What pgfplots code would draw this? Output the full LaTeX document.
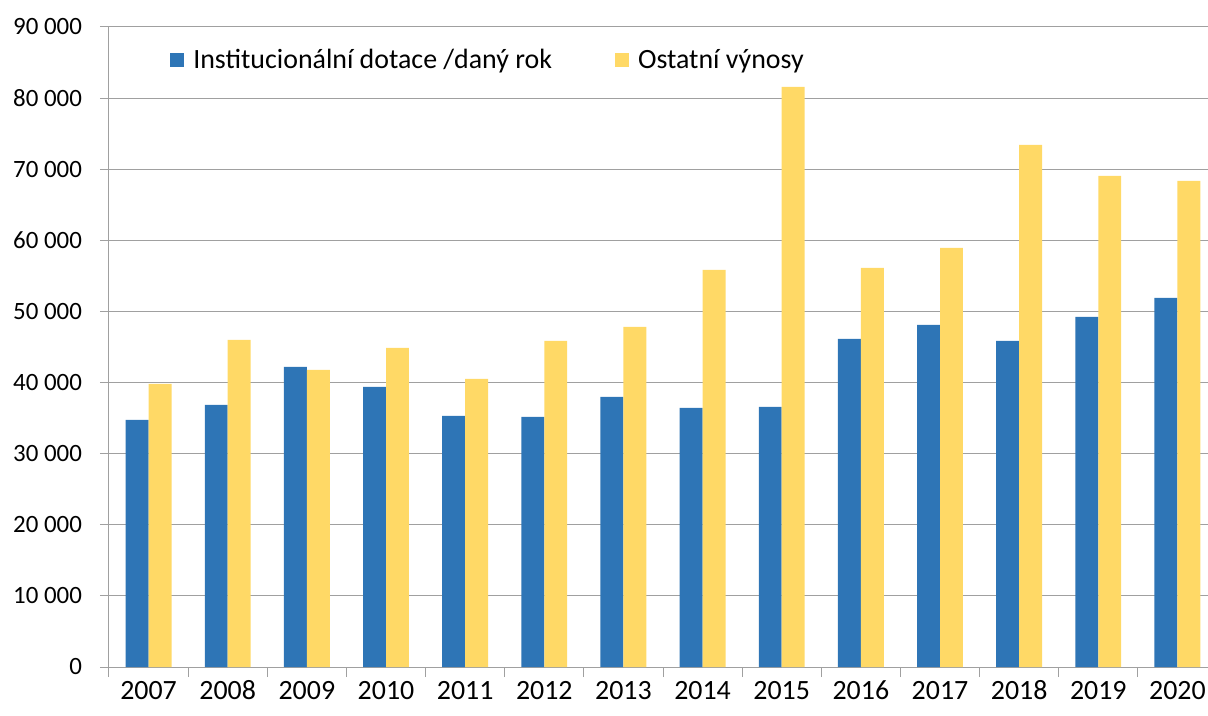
\documentclass[border=0pt]{standalone}
\usepackage{pgfplots}
\pgfplotsset{compat=1.18}
\usepackage{fontspec}
\setmainfont{Carlito}
\definecolor{blueI}{HTML}{2E75B6}
\definecolor{yellowO}{HTML}{FFD966}
\definecolor{gridc}{HTML}{A0A0A0}
\begin{document}
\begin{tikzpicture}
\begin{axis}[
    name=ax,
    scale only axis,
    width=554bp, height=320bp,
    xmin=-0.5, xmax=13.5,
    ymin=0, ymax=90000,
    ytick={0,10000,...,90000},
    xtick={0,...,13},
    xticklabels={2007,2008,2009,2010,2011,2012,2013,2014,2015,2016,2017,2018,2019,2020},
    minor xtick={-0.5,0.5,...,13.5},
    major x tick style={draw=none},
    minor tick length=5bp,
    major tick length=4.5bp,
    tick align=outside,
    tick style={gridc, line width=0.5bp},
    axis x line*=bottom,
    axis y line*=left,
    axis line style={gridc, line width=0.5bp},
    ymajorgrids=true,
    grid style={gridc, line width=0.5bp},
    font=\fontsize{14}{16}\selectfont,
    /pgf/number format/assume math mode=true,
    /pgf/number format/1000 sep={\ },
    scaled y ticks=false,
    xticklabel style={yshift=1bp, text height=9bp, text depth=0pt},
    yticklabel style={xshift=-5.5bp, font=\fontsize{12.5}{15}\selectfont},
    ybar=0pt,
    bar width=0.29,
    legend style={at={(rel axis cs:0.055,0.948)}, anchor=west, draw=none, fill=none,
        legend columns=2, inner sep=0pt,
        /tikz/every odd column/.append style={column sep=2.5bp},
        /tikz/every even column/.append style={column sep=29.5bp}},
    legend image code/.code={\fill[#1] (0bp,-3.5bp) rectangle (7bp,3.5bp);},
    legend cell align=left,
]
\addplot[fill=blueI, draw=none] coordinates {
    (0,34740) (1,36850) (2,42190) (3,39380) (4,35300) (5,35160) (6,37970)
    (7,36430) (8,36570) (9,46130) (10,48100) (11,45850) (12,49230) (13,51900)};
\addplot[fill=yellowO, draw=none] coordinates {
    (0,39800) (1,45990) (2,41770) (3,44870) (4,40500) (5,45850) (6,47820)
    (7,55840) (8,81570) (9,56120) (10,58930) (11,73420) (12,69060) (13,68350)};
\legend{Institucionální dotace /daný rok, Ostatní výnosy}
\end{axis}
\pgfresetboundingbox
\path ([shift={(-54.5bp,-24.5bp)}]ax.south west) rectangle ([shift={(-4.5bp,13.5bp)}]ax.north east);
\end{tikzpicture}
\end{document}
